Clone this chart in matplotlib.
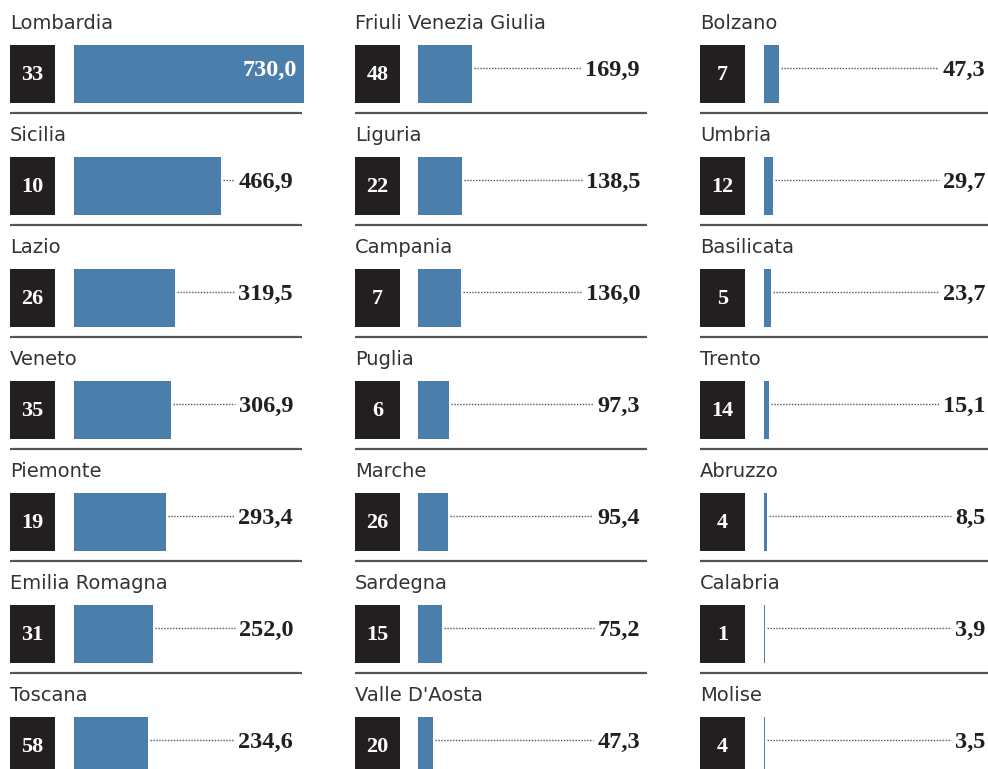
import numpy as np
import matplotlib.pyplot as plt

regions_1 = ['Lombardia', 'Sicilia', 'Lazio', 'Veneto', 'Piemonte', 'Emilia Romagna', 'Toscana']
counts_1 = [33, 10, 26, 35, 19, 31, 58]
values_1 = [730.0, 466.9, 319.5, 306.9, 293.4, 252.0, 234.6]

regions_2 = ['Friuli Venezia Giulia', 'Liguria', 'Campania', 'Puglia', 'Marche', 'Sardegna', "Valle D'Aosta"]
counts_2 = [48, 22, 7, 6, 26, 15, 20]
values_2 = [169.9, 138.5, 136.0, 97.3, 95.4, 75.2, 47.3]

regions_3 = ['Bolzano', 'Umbria', 'Basilicata', 'Trento', 'Abruzzo', 'Calabria', 'Molise']
counts_3 = [7, 12, 5, 14, 4, 1, 4]
values_3 = [47.3, 29.7, 23.7, 15.1, 8.5, 3.9, 3.5]

W, H = 988, 769
blue = '#4a7eab'
black = '#231f20'

fig = plt.figure(figsize=(W/100, H/100), dpi=100)
ax = fig.add_axes([0, 0, 1, 1])
ax.set_xlim(0, W)
ax.set_ylim(H, 0)
ax.axis('off')
renderer = fig.canvas.get_renderer()

scale = 230/730.0   # px per unit
row_h = 112
# (box left, bar left, value right edge, separator right)
cols = [(10, 74, 293, 302), (355, 418, 640, 647), (700, 764, 985, 988)]
data = [(regions_1, counts_1, values_1), (regions_2, counts_2, values_2), (regions_3, counts_3, values_3)]

for (bx, x0, vr, sr), (names, cnts, vals) in zip(cols, data):
    ys = 74 + row_h*np.arange(len(names))
    widths = np.array(vals)*scale
    ax.barh(ys, 45, left=bx, height=58, color=black)
    ax.barh(ys, widths, left=x0, height=58, color=blue)
    for y, name, c, v, w in zip(ys, names, cnts, vals, widths):
        ax.text(bx, y-45, name, fontsize=14, family='DejaVu Sans', color='#333333', va='baseline', ha='left')
        ax.text(bx+22.5, y+6, str(c), fontsize=16, family='Liberation Serif', weight='bold',
                color='white', va='baseline', ha='center')
        txt = f'{v:.1f}'.replace('.', ',')
        bar_end = x0 + w
        if bar_end + 60 > vr:
            ax.text(bar_end-7, y+2, txt, fontsize=17.5, family='Liberation Serif', weight='bold',
                    color='white', va='baseline', ha='right')
        else:
            t = ax.text(vr, y+2, txt, fontsize=17.5, family='Liberation Serif', weight='bold',
                        color='#231f20', va='baseline', ha='right')
            tw = t.get_window_extent(renderer).width
            ax.plot([bar_end+2, vr-tw-4], [y-6, y-6], color='#555555', lw=1, ls=(0, (1, 1.1)))
        ax.plot([bx, sr], [y+39, y+39], color='#555555', lw=1.6, solid_capstyle='butt')

fig.savefig('out.png', dpi=100)
